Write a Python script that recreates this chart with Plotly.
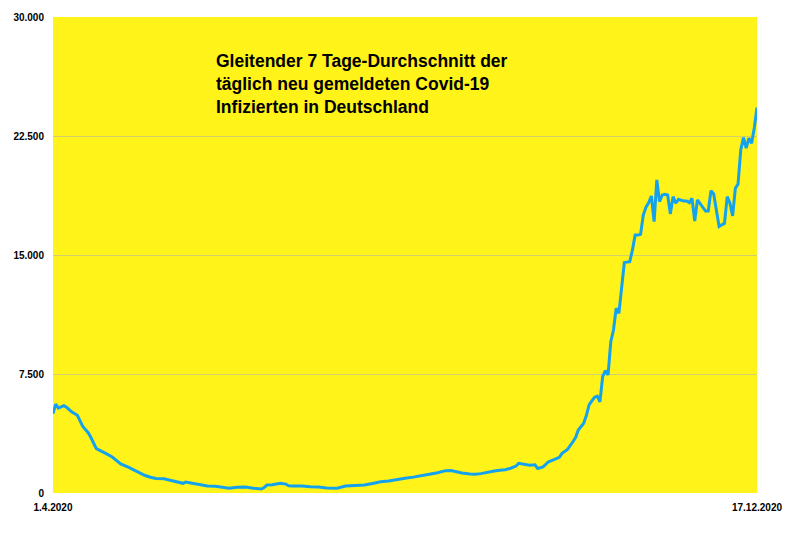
import datetime as dt
import plotly.graph_objects as go

start_date = "2020-04-01"
end_date = "2020-12-17"

# day offsets from 1.4.2020 and 7-day average values
day_offsets = [0, 1, 2, 3, 4, 5, 7, 9, 11, 13, 14, 16, 18, 20, 22, 24, 25, 28, 30, 32,
               34, 36, 38, 41, 43, 45, 47, 48, 49, 52, 54, 57, 60, 63, 65, 68, 71, 74, 76, 77,
               78, 79, 81, 84, 86, 87, 89, 92, 95, 98, 101, 103, 105, 108, 111, 115, 118, 121, 124, 127,
               130, 133, 136, 139, 142, 145, 147, 149, 151, 154, 156, 158, 161, 163, 165, 167, 169, 171, 172, 174,
               176, 178, 179, 181, 183, 185, 187, 188, 190, 192, 193, 194, 195, 196, 197, 198, 199, 200, 201, 202,
               203, 204, 205, 206, 207, 208, 209, 210, 211, 212, 213, 214, 215, 216, 217, 218, 219, 220, 221, 222,
               223, 224, 225, 226, 227, 228, 229, 230, 231, 232, 233, 234, 235, 236, 237, 238, 239, 240, 241, 242,
               243, 244, 245, 246, 247, 248, 249, 250, 251, 252, 253, 254, 255, 256, 257, 258, 259, 260]
values = [5000, 5600, 5350, 5450, 5500, 5400, 5100, 4900, 4200, 3800, 3500, 2800, 2650, 2450, 2250, 2000, 1830, 1620, 1450, 1240,
          1100, 990, 920, 900, 820, 700, 650, 610, 690, 610, 520, 440, 430, 350, 300, 360, 380, 300, 260, 250,
          350, 500, 520, 620, 560, 450, 440, 440, 390, 380, 320, 300, 300, 440, 460, 500, 600, 710, 760, 860,
          930, 1000, 1070, 1180, 1280, 1410, 1420, 1340, 1260, 1200, 1180, 1220, 1340, 1380, 1430, 1470, 1560, 1700, 1870, 1800,
          1750, 1780, 1550, 1650, 1970, 2100, 2250, 2500, 2750, 3230, 3500, 3970, 4200, 4400, 4900, 5550, 5800, 6030, 6100, 5750,
          7330, 7710, 7440, 9540, 10270, 11640, 11330, 12800, 14520, 14550, 14580, 15320, 16260, 16260, 16300, 17520, 18010, 18300, 18720, 17100,
          19730, 18360, 18780, 18830, 18780, 17590, 18680, 18260, 18510, 18450, 18400, 18400, 18300, 18570, 17140, 18470, 18250, 18050, 17770, 17770,
          19060, 18850, 17840, 16790, 16900, 17000, 18680, 18260, 17460, 19200, 19480, 21620, 22400, 21730, 22360, 22040, 23000, 24300]

y_ticks = [0, 7500, 15000, 22500, 30000]
y_tick_labels = ["0", "7.500", "15.000", "22.500", "30.000"]
x_tick_labels = ["1.4.2020", "17.12.2020"]
title_text = ("Gleitender 7 Tage-Durchschnitt der<br>"
              "täglich neu gemeldeten Covid-19<br>"
              "Infizierten in Deutschland")

base = dt.date.fromisoformat(start_date)
dates = [base + dt.timedelta(days=d) for d in day_offsets]

fig = go.Figure()
fig.add_trace(go.Scatter(
    x=dates, y=values, mode="lines",
    line=dict(color="#14a2ef", width=3),
    hoverinfo="skip",
))

fig.add_annotation(
    text=title_text, xref="paper", yref="paper", x=0.229, y=0.933,
    xanchor="left", yanchor="top", align="left", showarrow=False,
    font=dict(family="Liberation Sans, Arial, sans-serif", size=17.5, color="black", weight="bold"),
)

fig.update_layout(
    width=800, height=533,
    margin=dict(l=53, r=43, t=17, b=40),
    paper_bgcolor="white",
    plot_bgcolor="#fff31a",
    showlegend=False,
    font=dict(family="Liberation Sans, Arial, sans-serif", color="black"),
)
fig.update_xaxes(
    type="date", range=[start_date, end_date],
    tickvals=[start_date, end_date], ticktext=x_tick_labels,
    showgrid=False, zeroline=False, showline=False, ticks="",
    ticklabelstandoff=7,
    tickfont=dict(size=10, weight="bold"),
)
fig.update_yaxes(
    range=[0, 30000], tickvals=y_ticks, ticktext=y_tick_labels,
    showgrid=True, gridcolor="rgba(175,175,175,0.55)", gridwidth=1,
    zeroline=False, showline=False, ticks="",
    ticklabelstandoff=8,
    tickfont=dict(size=10, weight="bold"),
)

fig.write_html("out.html")
